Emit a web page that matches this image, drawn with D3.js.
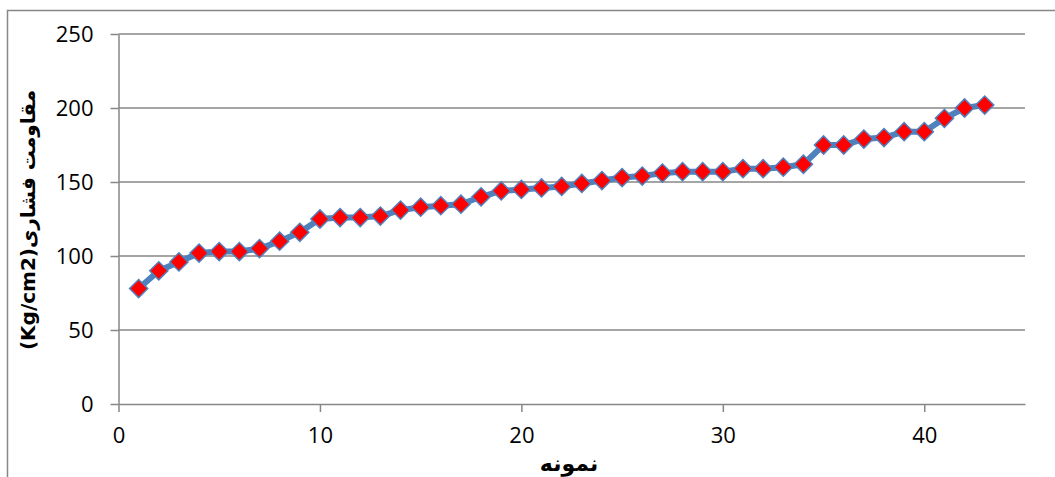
<!DOCTYPE html>
<html>
<head>
<meta charset="utf-8">
<script src="https://cdn.jsdelivr.net/npm/d3@7"></script>
<style>
    body { margin: 0; background: #fff; }
    .tick text { font-family: "Open Sans", "Liberation Sans", sans-serif; font-size: 22px; fill: #000; }
    .axis path, .axis line, .grid line { stroke: #878787; stroke-width: 1.5; }
</style>
</head>
<body>
<script>
// sample number (x) and compressive strength (y)
const samples = d3.range(1, 44);
const strength = [78, 90, 96, 102, 103, 103, 105, 110, 116, 125,
                  126, 126, 127, 131, 133, 134, 135, 140, 144, 145,
                  146, 147, 149, 151, 153, 154, 156, 157, 157, 157,
                  159, 159, 160, 162, 175, 175, 179, 180, 184, 184,
                  193, 200, 202];
const xTicks = [0, 10, 20, 30, 40];
const yTicks = [0, 50, 100, 150, 200, 250];
const xTitle = "نمونه";
const yTitle = "مقاومت فشاری(Kg/cm2)";

const dataset = samples.map((s, i) => ({x: s, y: strength[i]}));

const W = 1055, H = 477;
const margin = {top: 34, right: 30, bottom: 73, left: 118.5};
const width = 1025 - margin.left;
const height = 404 - margin.top;

const svg = d3.select("body").append("svg")
    .attr("width", W)
    .attr("height", H);

// chart frame (cropped on the right and bottom in the original)
svg.append("rect")
    .attr("x", 7.5).attr("y", 10.5)
    .attr("width", W + 20).attr("height", H + 20)
    .attr("fill", "none")
    .attr("stroke", "#878787")
    .attr("stroke-width", 1.5);

const chart = svg.append("g")
    .attr("transform", "translate(" + margin.left + "," + margin.top + ")");

const xScale = d3.scaleLinear().domain([0, 45]).range([0, width]);
const yScale = d3.scaleLinear().domain([0, 250]).range([height, 0]);

// horizontal gridlines
chart.append("g")
    .attr("class", "grid")
    .selectAll("line")
    .data(yTicks.filter(d => d > 0))
    .enter().append("line")
    .attr("x1", 0).attr("x2", width)
    .attr("y1", d => yScale(d)).attr("y2", d => yScale(d));

chart.append("g")
    .attr("class", "x axis")
    .attr("transform", "translate(0," + height + ")")
    .call(d3.axisBottom(xScale).tickValues(xTicks).tickSizeInner(8).tickSizeOuter(0).tickPadding(15));

chart.append("g")
    .attr("class", "y axis")
    .call(d3.axisLeft(yScale).tickValues(yTicks).tickSizeInner(8).tickSizeOuter(0).tickPadding(17));

chart.selectAll(".y.axis .tick text").attr("dy", "0.35em");

// the line
chart.append("path")
    .datum(dataset)
    .attr("fill", "none")
    .attr("stroke", "#4F81BD")
    .attr("stroke-width", 6)
    .attr("stroke-linejoin", "round")
    .attr("d", d3.line().x(d => xScale(d.x)).y(d => yScale(d.y)));

// diamond markers
const diamond = d3.symbol().type(d3.symbolSquare).size(165);
chart.selectAll(".dot")
    .data(dataset)
    .enter().append("path")
    .attr("class", "dot")
    .attr("d", diamond)
    .attr("transform", d => "translate(" + xScale(d.x) + "," + yScale(d.y) + ") rotate(45)")
    .attr("fill", "#FF0000")
    .attr("stroke", "#4F81BD")
    .attr("stroke-width", 1.5);

// axis titles
svg.append("text")
    .attr("x", 569).attr("y", 471)
    .attr("text-anchor", "middle")
    .style("font-family", "'DejaVu Sans', sans-serif")
    .style("font-weight", "bold")
    .style("font-size", "22px")
    .text(xTitle);

svg.append("text")
    .attr("transform", "translate(35,220) rotate(-90)")
    .attr("text-anchor", "middle")
    .style("direction", "rtl")
    .style("font-family", "'DejaVu Sans', sans-serif")
    .style("font-weight", "bold")
    .style("font-size", "20px")
    .text(yTitle);
</script>
</body>
</html>
